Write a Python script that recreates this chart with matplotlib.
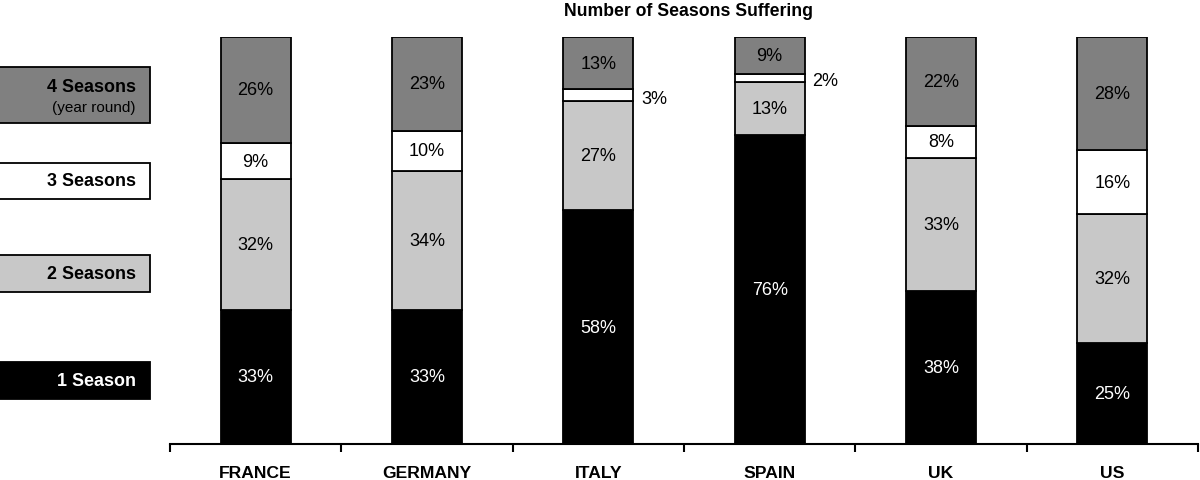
import matplotlib
matplotlib.use("Agg")
import matplotlib.pyplot as plt
from matplotlib.patches import Rectangle
import numpy as np

plt.rcParams['font.family'] = ['Liberation Sans', 'DejaVu Sans']

countries = ["FRANCE", "GERMANY", "ITALY", "SPAIN", "UK", "US"]
one_season = [33, 33, 58, 76, 38, 25]
two_seasons = [32, 34, 27, 13, 33, 32]
three_seasons = [9, 10, 3, 2, 8, 16]
four_seasons = [26, 23, 13, 9, 22, 28]

series = [one_season, two_seasons, three_seasons, four_seasons]
colors = ["#000000", "#c8c8c8", "#ffffff", "#808080"]
text_colors = ["white", "black", "black", "black"]
legend_labels = ["1 Season", "2 Seasons", "3 Seasons", "4 Seasons"]

W, H = 1200, 481
fig = plt.figure(figsize=(W / 100, H / 100), dpi=100)
ax = fig.add_axes([170 / W, 1 - 445 / H, (1198 - 170) / W, (445 - 38) / H])

x = np.arange(len(countries))
vals = np.array(series, dtype=float)
totals = vals.sum(axis=0)
norm = vals / totals * 100
bottom = np.zeros(len(countries))
bw = 0.41
for i, (row, raw) in enumerate(zip(norm, vals)):
    ax.bar(x, row, bw, bottom=bottom, color=colors[i], edgecolor="black",
           linewidth=1.3, zorder=2)
    for j in range(len(countries)):
        mid = bottom[j] + row[j] / 2
        if raw[j] <= 3:
            ax.text(x[j] + bw / 2 + 0.045, mid - 0.7, f"{int(raw[j])}%", ha="left",
                    va="center", fontsize=13, color="black")
        else:
            ax.text(x[j], mid, f"{int(raw[j])}%", ha="center", va="center",
                    fontsize=13, color=text_colors[i])
    bottom += row

ax.set_xlim(-0.5, len(countries) - 0.5)
ax.set_ylim(0, 100)
for s in ["top", "right", "left"]:
    ax.spines[s].set_visible(False)
ax.spines["bottom"].set_linewidth(1.5)
ax.set_yticks([])
ax.set_xticks(np.arange(-0.5, len(countries), 1.0))
ax.set_xticklabels([])
ax.tick_params(axis="x", direction="out", length=6, width=1.5)
for j, c in enumerate(countries):
    ax.text(x[j], -7, c, ha="center", va="center", fontsize=12.6,
            fontweight="bold", transform=ax.transData)

fig.text(688 / W, 1 - 11 / H, "Number of Seasons Suffering", ha="center",
         va="center", fontsize=12.7, fontweight="bold")

# Legend boxes (figure pixel coords: top, bottom)
boxes = [(363, 400), (256, 293), (164, 200), (68, 124)]
for i, (t, b) in enumerate(boxes):
    rect = Rectangle((-2 / W, 1 - b / H), 152 / W, (b - t) / H,
                     transform=fig.transFigure, facecolor=colors[i],
                     edgecolor="black", linewidth=1.3)
    fig.patches.append(rect)
    if i == 3:
        fig.text(136 / W, 1 - 88 / H, legend_labels[i], ha="right",
                 va="center", fontsize=12.9, fontweight="bold", color="black")
        fig.text(136 / W, 1 - 108 / H, "(year round)", ha="right",
                 va="center", fontsize=11, color="black")
    else:
        fig.text(136 / W, 1 - (t + b) / 2 / H, legend_labels[i], ha="right",
                 va="center", fontsize=12.9, fontweight="bold",
                 color="white" if i == 0 else "black")

fig.savefig("out.png", dpi=100)
